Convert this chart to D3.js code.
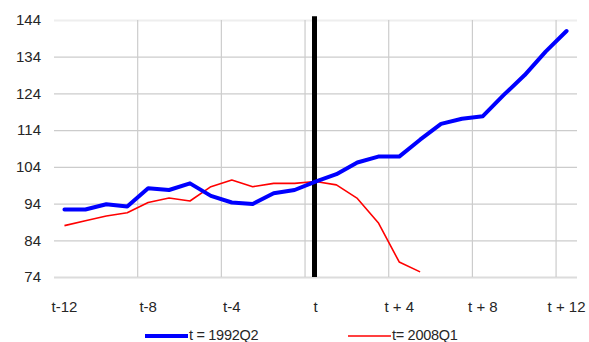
<!DOCTYPE html>
<html>
<head>
<meta charset="utf-8">
<script src="https://cdn.jsdelivr.net/npm/d3@7"></script>
<style>
    body { margin: 0; background: #fff; }
    text { font-family: "Liberation Sans", Arial, sans-serif; fill: #262626; }
</style>
</head>
<body>
<svg id="chart-svg"></svg>
<script>
// quarters around the event date t
const categories = ['t-12','t-11','t-10','t-9','t-8','t-7','t-6','t-5','t-4','t-3','t-2','t-1','t',
    't+1','t+2','t+3','t+4','t+5','t+6','t+7','t+8','t+9','t+10','t+11','t+12'];
const xTickLabels = ['t-12','t-8','t-4','t','t + 4','t + 8','t + 12'];
const yTicks = [74, 84, 94, 104, 114, 124, 134, 144];

const series1992 = [92.4, 92.4, 93.8, 93.2, 98.2, 97.7, 99.5, 96.1, 94.3, 93.9, 96.8, 97.7, 100,
    102.0, 105.2, 106.8, 106.8, 111.4, 115.7, 117.1, 117.8, 123.6, 129.0, 135.4, 141.0];
const series2008 = [88.0, 89.3, 90.6, 91.5, 94.3, 95.5, 94.7, 98.6, 100.4, 98.6, 99.5, 99.5, 100,
    99.1, 95.4, 88.8, 78.1, 75.4];

const legendNames = ['t = 1992Q2', 't= 2008Q1'];
const eventCategory = 't';
const eventTop = 145;

const width = 589;
const height = 342;
const margin = {left: 54, right: 12, top: 20, bottom: 65};

const svg = d3.select('#chart-svg')
    .attr('width', width)
    .attr('height', height);

const xScale = d3.scaleBand()
    .domain(categories)
    .range([margin.left, width - margin.right])
    .padding(0);

const yScale = d3.scaleLinear()
    .domain([74, 144])
    .range([height - margin.bottom, margin.top]);

const xMid = (c) => xScale(c) + xScale.bandwidth() / 2;

//horizontal grid + y labels
const yAxis = svg.append('g')
    .attr('transform', 'translate(' + margin.left + ',0)')
    .call(d3.axisLeft(yScale)
        .tickValues(yTicks)
        .tickSizeInner(-(width - margin.left - margin.right))
        .tickSizeOuter(0)
        .tickPadding(13));
yAxis.select('.domain').remove();
yAxis.selectAll('.tick line')
    .attr('stroke', (d) => (d === 144 ? '#eeeeee' : (d === 74 ? '#dcdcdc' : '#cccccc')))
    .attr('stroke-width', (d) => (d === 144 || d === 74 ? 2 : 1.2));
yAxis.selectAll('.tick text')
    .style('font-size', '15px');

//vertical grid lines every 4 quarters
const gridCats = categories.filter((c, i) => i > 0 && i % 4 === 0);
svg.append('g')
    .selectAll('line')
    .data(gridCats)
    .enter()
    .append('line')
    .attr('x1', (d) => xScale(d))
    .attr('x2', (d) => xScale(d))
    .attr('y1', yScale(144))
    .attr('y2', yScale(74))
    .attr('stroke', '#cccccc')
    .attr('stroke-width', 1.2);

//x labels
const labelCats = categories.filter((c, i) => i % 4 === 0);
const xAxis = svg.append('g')
    .attr('transform', 'translate(0,' + (height - margin.bottom) + ')')
    .call(d3.axisBottom(xScale)
        .tickValues(labelCats)
        .tickSize(0)
        .tickPadding(24)
        .tickFormat((d, i) => xTickLabels[i]));
xAxis.select('.domain').remove();
xAxis.selectAll('.tick text')
    .style('font-size', '15px');

//event marker line
svg.append('line')
    .attr('x1', xMid(eventCategory) - 1)
    .attr('x2', xMid(eventCategory) - 1)
    .attr('y1', yScale(eventTop))
    .attr('y2', yScale(74))
    .attr('stroke', '#000')
    .attr('stroke-width', 5);

const line = d3.line()
    .x((d, i) => xMid(categories[i]))
    .y((d) => yScale(d));

svg.append('path')
    .datum(series2008)
    .attr('fill', 'none')
    .attr('stroke', '#ff0000')
    .attr('stroke-width', 1.6)
    .attr('stroke-linejoin', 'round')
    .attr('d', line);

svg.append('path')
    .datum(series1992)
    .attr('fill', 'none')
    .attr('stroke', '#0000ff')
    .attr('stroke-width', 4)
    .attr('stroke-linejoin', 'round')
    .attr('stroke-linecap', 'round')
    .attr('d', line);

// legend
const legendY = 335;
const legend = [
    {name: legendNames[0], color: '#0000ff', w: 4, x: 145},
    {name: legendNames[1], color: '#ff0000', w: 1.6, x: 348}
];
legend.forEach(function (d) {
    svg.append('line')
        .attr('x1', d.x)
        .attr('x2', d.x + 43)
        .attr('y1', legendY + 1)
        .attr('y2', legendY + 1)
        .attr('stroke', d.color)
        .attr('stroke-width', d.w);
    svg.append('text')
        .attr('x', d.x + 44)
        .attr('y', legendY)
        .attr('dy', '0.36em')
        .style('font-size', '14.5px')
        .style('letter-spacing', '-0.3px')
        .text(d.name);
});
</script>
</body>
</html>
